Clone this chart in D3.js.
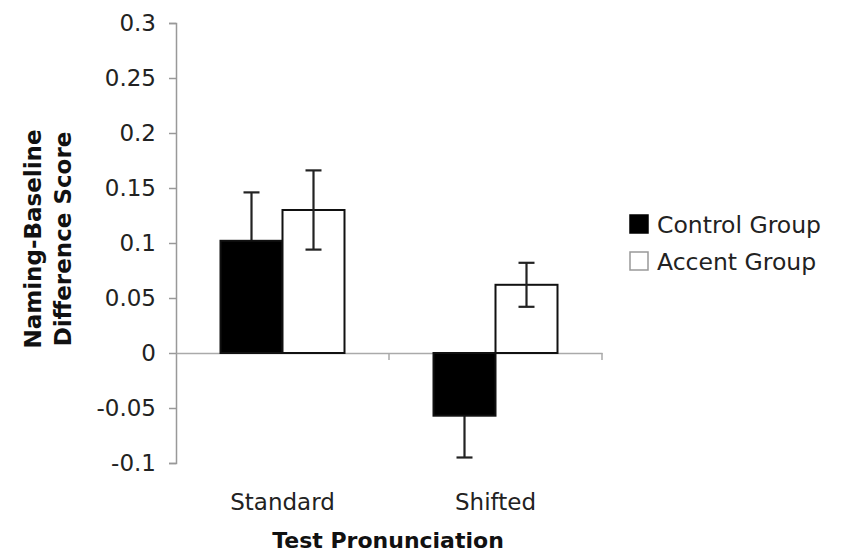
<!DOCTYPE html>
<html>
<head>
<meta charset="utf-8">
<script src="https://cdn.jsdelivr.net/npm/d3@7"></script>
<style>
  html, body { margin: 0; padding: 0; background: #fff; }
  svg { display: block; font-family: "DejaVu Sans", Verdana, sans-serif; }
</style>
</head>
<body>
<svg id="chart" width="844" height="552"></svg>
<script>
// Conditions on the x axis and the two groups
const categories = ["Standard", "Shifted"];
const groups = ["Control Group", "Accent Group"];
// Mean difference scores (Control, Accent) per condition
const controlMeans = [0.102, -0.057];
const accentMeans = [0.130, 0.062];
// Error bar half-widths
const controlErrors = [0.044, 0.038];
const accentErrors = [0.036, 0.020];
// Y-axis tick values
const yTicks = [-0.1, -0.05, 0, 0.05, 0.1, 0.15, 0.2, 0.25, 0.3];

const fills = ["#000", "#fff"];

const svg = d3.select("#chart");
const margin = { left: 176, right: 242, top: 23, bottom: 89 };
const W = 844, H = 552;

const y = d3.scaleLinear().domain([-0.1, 0.3]).range([H - margin.bottom, margin.top]);
const x = d3.scaleBand().domain(categories).range([margin.left, W - margin.right]);
const xi = d3.scaleBand().domain(groups).range([0, 124]);

const rows = categories.map((c, i) => ({
  cat: c,
  vals: [
    { g: groups[0], k: 0, v: controlMeans[i], e: controlErrors[i] },
    { g: groups[1], k: 1, v: accentMeans[i], e: accentErrors[i] }
  ]
}));

// Y axis (hyphen-minus for negatives)
const yAxis = svg.append("g")
  .attr("transform", `translate(${margin.left},0)`)
  .call(d3.axisLeft(y).tickValues(yTicks).tickSize(7).tickPadding(13)
    .tickFormat(d => String(+d.toFixed(2))));
yAxis.select(".domain").attr("stroke", "#999").attr("stroke-width", 1.5);
yAxis.selectAll(".tick line").attr("stroke", "#999").attr("stroke-width", 1.5);
yAxis.selectAll(".tick text").attr("fill", "#222").style("font-size", "23px")
  .style("font-family", "'DejaVu Sans', Verdana, sans-serif");

// Category axis along zero
const xAxis = svg.append("g")
  .attr("transform", `translate(0,${y(0)})`)
  .call(d3.axisBottom(x).tickSize(0).tickFormat(""));
xAxis.select(".domain").attr("stroke", "#aaa").attr("stroke-width", 1.5);
xAxis.selectAll(".tick").remove();
// boundary tick marks between categories
const bounds = [x.range()[0] + x.bandwidth(), x.range()[1]];
xAxis.selectAll("line.bt").data(bounds).join("line")
  .attr("class", "bt")
  .attr("x1", d => d).attr("x2", d => d)
  .attr("y1", 0).attr("y2", 7)
  .attr("stroke", "#aaa").attr("stroke-width", 1.5);

const groupG = svg.selectAll("g.cat").data(rows).join("g")
  .attr("class", "cat")
  .attr("transform", d => `translate(${x(d.cat) + x.bandwidth() / 2 - 62},0)`);

function drawErrors(sel) {
  const eb = sel.append("g")
    .attr("transform", d => `translate(${xi(d.g) + xi.bandwidth() / 2},0)`);
  eb.append("line")
    .attr("y1", d => y(d.v - d.e)).attr("y2", d => y(d.v + d.e));
  eb.append("line")
    .attr("x1", -8).attr("x2", 8)
    .attr("y1", d => y(d.v + d.e)).attr("y2", d => y(d.v + d.e));
  eb.append("line")
    .attr("x1", -8).attr("x2", 8)
    .attr("y1", d => y(d.v - d.e)).attr("y2", d => y(d.v - d.e));
  eb.selectAll("line").attr("stroke", "#222").attr("stroke-width", 2.2);
}

// Control error bars sit behind the solid bars
groupG.selectAll("g.errC").data(d => d.vals.filter(v => v.k === 0)).join("g")
  .attr("class", "errC").call(drawErrors);

// Bars
groupG.selectAll("rect").data(d => d.vals).join("rect")
  .attr("x", d => xi(d.g))
  .attr("width", xi.bandwidth())
  .attr("y", d => y(Math.max(0, d.v)))
  .attr("height", d => Math.abs(y(d.v) - y(0)))
  .attr("fill", d => fills[d.k])
  .attr("stroke", "#111")
  .attr("stroke-width", 2);

// Accent error bars drawn over the open bars
groupG.selectAll("g.errA").data(d => d.vals.filter(v => v.k === 1)).join("g")
  .attr("class", "errA").call(drawErrors);

// Category labels
svg.selectAll("text.cat").data(categories).join("text")
  .attr("class", "cat")
  .attr("x", d => x(d) + x.bandwidth() / 2)
  .attr("y", 510)
  .attr("text-anchor", "middle")
  .attr("fill", "#222")
  .style("font-size", "23px")
  .text(d => d);

// Axis titles
svg.append("text")
  .attr("x", 388).attr("y", 548)
  .attr("text-anchor", "middle")
  .attr("fill", "#111")
  .style("font-size", "22px").style("font-weight", "bold")
  .text("Test Pronunciation");

const yt = svg.append("text")
  .attr("transform", "translate(0,239) rotate(-90)")
  .attr("text-anchor", "middle")
  .attr("fill", "#111")
  .style("font-size", "23px").style("font-weight", "bold");
yt.append("tspan").attr("x", 0).attr("y", 41).text("Naming-Baseline");
yt.append("tspan").attr("x", 0).attr("y", 71).text("Difference Score");

// Legend
const leg = svg.append("g").attr("transform", "translate(630,215)");
const li = leg.selectAll("g").data(groups).join("g")
  .attr("transform", (d, i) => `translate(0,${i * 37})`);
li.append("rect")
  .attr("width", 18).attr("height", 18)
  .attr("fill", (d, i) => fills[i])
  .attr("stroke", (d, i) => i === 0 ? "#000" : "#999")
  .attr("stroke-width", 1.5);
li.append("text")
  .attr("x", 27).attr("y", 18)
  .attr("fill", "#222")
  .style("font-size", "23.5px")
  .text(d => d);
</script>
</body>
</html>
